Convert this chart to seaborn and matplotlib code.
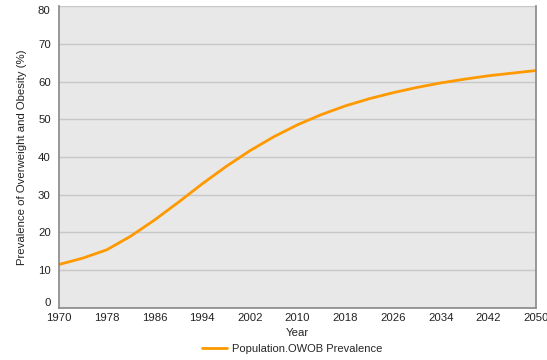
import pandas as pd
import matplotlib
matplotlib.use('Agg')
import matplotlib.pyplot as plt
import seaborn as sns

years = [1970, 1974, 1978, 1982, 1986, 1990, 1994, 1998, 2002, 2006, 2010,
         2014, 2018, 2022, 2026, 2030, 2034, 2038, 2042, 2046, 2050]
prevalence = [11.5, 13.2, 15.4, 19.0, 23.3, 28.0, 32.9, 37.5, 41.7, 45.4, 48.6,
              51.3, 53.6, 55.5, 57.1, 58.5, 59.7, 60.7, 61.6, 62.3, 63.0]
x_ticks = list(range(1970, 2051, 8))
y_ticks = list(range(0, 81, 10))

df = pd.DataFrame({'Year': years, 'Population.OWOB Prevalence': prevalence})

sns.set_style('white')
plt.rcParams['font.family'] = ['Liberation Sans', 'DejaVu Sans']

fig = plt.figure(figsize=(5.47, 3.6), dpi=100)
ax = fig.add_axes([0.108, 0.145, 0.872, 0.837])
ax.set_facecolor('#e8e8e8')

sns.lineplot(data=df, x='Year', y='Population.OWOB Prevalence', ax=ax,
             color='#ff9900', linewidth=2, legend=False)

ax.set_xlim(1970, 2050)
ax.set_ylim(0, 80)
ax.set_xticks(x_ticks)
ax.set_yticks(y_ticks)
ax.yaxis.grid(True, color='#c8c8c8', linewidth=1)
ax.set_axisbelow(True)
ax.tick_params(axis='x', direction='in', length=3, color='#888888', labelsize=8.2,
               pad=4, labelcolor='#222222')
ax.tick_params(axis='y', length=0, labelsize=8.2, pad=6, labelcolor='#222222')
ylabels = ax.get_yticklabels()
ylabels[0].set_va('bottom')
ylabels[-1].set_va('top')
for side in ['left', 'bottom', 'right']:
    ax.spines[side].set_color('#888888')
    ax.spines[side].set_linewidth(1.2)
ax.spines['top'].set_visible(False)

ax.set_xlabel('Year', fontsize=8.2, labelpad=3, color='#222222')
ax.set_ylabel('Prevalence of Overweight and Obesity (%)', fontsize=8.2,
              labelpad=8, color='#222222')

handle = plt.Line2D([], [], color='#ff9900', linewidth=2)
fig.legend([handle], ['Population.OWOB Prevalence'], loc='center',
           bbox_to_anchor=(0.535, 0.03), frameon=False, fontsize=8,
           handlelength=2.2, handletextpad=0.5)

fig.savefig('out.png', dpi=100)
